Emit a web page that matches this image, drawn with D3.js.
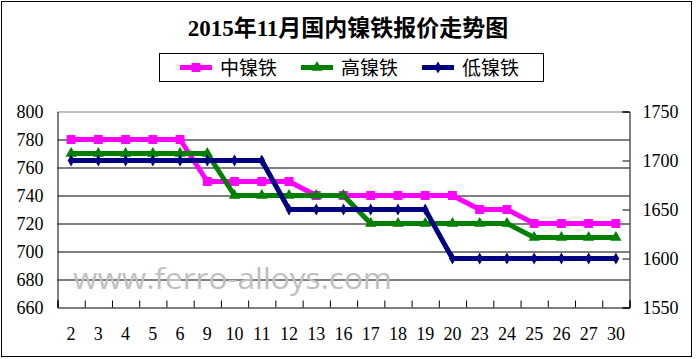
<!DOCTYPE html>
<html>
<head>
<meta charset="utf-8">
<script src="https://cdn.jsdelivr.net/npm/d3@7"></script>
<style>
  body { margin: 0; background: #fff; }
  svg { display: block; }
  .num { font-family: "Liberation Serif", "DejaVu Serif", serif; font-size: 18px; fill: #000; }
</style>
</head>
<body>
<script>
/*** data ***/
const days = ["2","3","4","5","6","9","10","11","12","13","16","17","18","19","20","23","24","25","26","27","30"];
const midNi  = [780,780,780,780,780,750,750,750,750,740,740,740,740,740,740,730,730,720,720,720,720];
const highNi = [770,770,770,770,770,770,740,740,740,740,740,720,720,720,720,720,720,710,710,710,710];
const lowNi  = [1700,1700,1700,1700,1700,1700,1700,1700,1650,1650,1650,1650,1650,1650,1600,1600,1600,1600,1600,1600,1600];
const leftTicks  = [660,680,700,720,740,760,780,800];
const rightTicks = [1550,1600,1650,1700,1750];

/*** sizes ***/
const width = 697, height = 359;
const plot = { left: 57.5, right: 629.5, top: 111.5, bottom: 307.5 };
const cjk = '"Liberation Serif", "Noto Sans CJK SC", serif';

const svg = d3.select("body").append("svg")
  .attr("width", width)
  .attr("height", height);

// outer frame
svg.append("rect")
  .attr("x", 1.5).attr("y", 1.5)
  .attr("width", 690).attr("height", 355)
  .attr("fill", "#fff").attr("stroke", "#000");

/*** scales ***/
const x = d3.scaleBand().domain(days).range([plot.left, plot.right]).padding(0);
const xIdx = d3.scaleLinear().domain([0, days.length]).range([plot.left, plot.right]);
const yL = d3.scaleLinear().domain([660, 800]).range([plot.bottom, plot.top]);
const yR = d3.scaleLinear().domain([1550, 1750]).range([plot.bottom, plot.top]);
const cx = d => x(d) + x.bandwidth() / 2;

/*** title ***/
svg.append("text")
  .attr("x", 348).attr("y", 36)
  .attr("text-anchor", "middle")
  .style("font-family", cjk)
  .style("font-size", "23px")
  .style("font-weight", "bold")
  .text("2015年11月国内镍铁报价走势图");

/*** gridlines ***/
const grid = svg.append("g")
  .attr("transform", `translate(${plot.left},0)`)
  .call(d3.axisLeft(yL).tickValues(leftTicks.slice(1)).tickSize(-(plot.right - plot.left)).tickFormat(""));
grid.select(".domain").remove();
grid.selectAll(".tick line")
  .attr("stroke", d => d === 800 ? "#808080" : "#000");

/*** watermark ***/
svg.append("text")
  .attr("x", 73).attr("y", 289)
  .attr("textLength", 319)
  .attr("lengthAdjust", "spacingAndGlyphs")
  .style("font-family", '"Open Sans", "Noto Sans", sans-serif')
  .style("font-size", "29px")
  .style("fill", "#c0c0c0")
  .text("www.ferro-alloys.com");

/*** axes ***/
// left axis labels
const gL = svg.append("g")
  .attr("transform", `translate(${plot.left},0)`)
  .call(d3.axisLeft(yL).tickValues(leftTicks).tickSize(0).tickPadding(14));
gL.select(".domain").attr("stroke", "#000");
gL.selectAll("text").attr("class", "num").attr("dy", "0.34em");

// right axis with inward ticks
const gR = svg.append("g")
  .attr("transform", `translate(${plot.right},0)`)
  .call(d3.axisRight(yR).tickValues(rightTicks).tickSize(-7).tickPadding(13).tickFormat(d3.format("d")));
gR.select(".domain").attr("stroke", "#000");
gR.selectAll(".tick line").attr("stroke", "#000");
gR.selectAll("text").attr("class", "num").attr("dy", "0.34em");

// bottom axis: labels at category centers
const gB = svg.append("g")
  .attr("transform", `translate(0,${plot.bottom})`)
  .call(d3.axisBottom(x).tickSize(0).tickPadding(20));
gB.select(".domain").remove();
gB.selectAll("text").attr("class", "num");

// bottom axis: tick marks on category boundaries, pointing up
const gT = svg.append("g")
  .attr("transform", `translate(0,${plot.bottom})`)
  .call(d3.axisBottom(xIdx).tickValues(d3.range(0, days.length + 1)).tickSize(-7).tickFormat(""));
gT.select(".domain").attr("stroke", "#000");
gT.selectAll(".tick line").attr("stroke", "#000");

/*** series ***/
const series = [
  { name: "中镍铁", values: midNi,  y: yL, color: "#ff00ff", symbol: d3.symbolSquare,   size: 80 },
  { name: "高镍铁", values: highNi, y: yL, color: "#008000", symbol: d3.symbolTriangle, size: 55 },
  { name: "低镍铁", values: lowNi,  y: yR, color: "#000080", symbol: d3.symbolDiamond,  size: 40 }
];

series.forEach(s => {
  const line = d3.line()
    .x((d, i) => cx(days[i]))
    .y(d => s.y(d));

  svg.append("path")
    .datum(s.values)
    .attr("d", line)
    .attr("fill", "none")
    .attr("stroke", s.color)
    .attr("stroke-width", 5)
    .attr("stroke-linejoin", "round");

  svg.append("g")
    .selectAll("path")
    .data(s.values)
    .join("path")
    .attr("transform", (d, i) => `translate(${cx(days[i])},${s.y(d)})`)
    .attr("d", d3.symbol(s.symbol, s.size))
    .attr("fill", s.color);
});

/*** legend ***/
const legend = svg.append("g");
legend.append("rect")
  .attr("x", 159.5).attr("y", 53.5)
  .attr("width", 384).attr("height", 28)
  .attr("fill", "#fff").attr("stroke", "#000");

const legendX = d3.scaleOrdinal().domain(series.map(s => s.name)).range([180, 301, 422]);

series.forEach(s => {
  const lx = legendX(s.name), ly = 67.5;
  legend.append("line")
    .attr("x1", lx).attr("x2", lx + 32)
    .attr("y1", ly).attr("y2", ly)
    .attr("stroke", s.color).attr("stroke-width", 5);
  legend.append("path")
    .attr("transform", `translate(${lx + 16},${ly})`)
    .attr("d", d3.symbol(s.symbol, s.size))
    .attr("fill", s.color);
  legend.append("text")
    .attr("x", lx + 40).attr("y", ly + 7)
    .style("font-family", '"Noto Sans CJK SC", sans-serif')
    .style("font-size", "19px")
    .text(s.name);
});
</script>
</body>
</html>
